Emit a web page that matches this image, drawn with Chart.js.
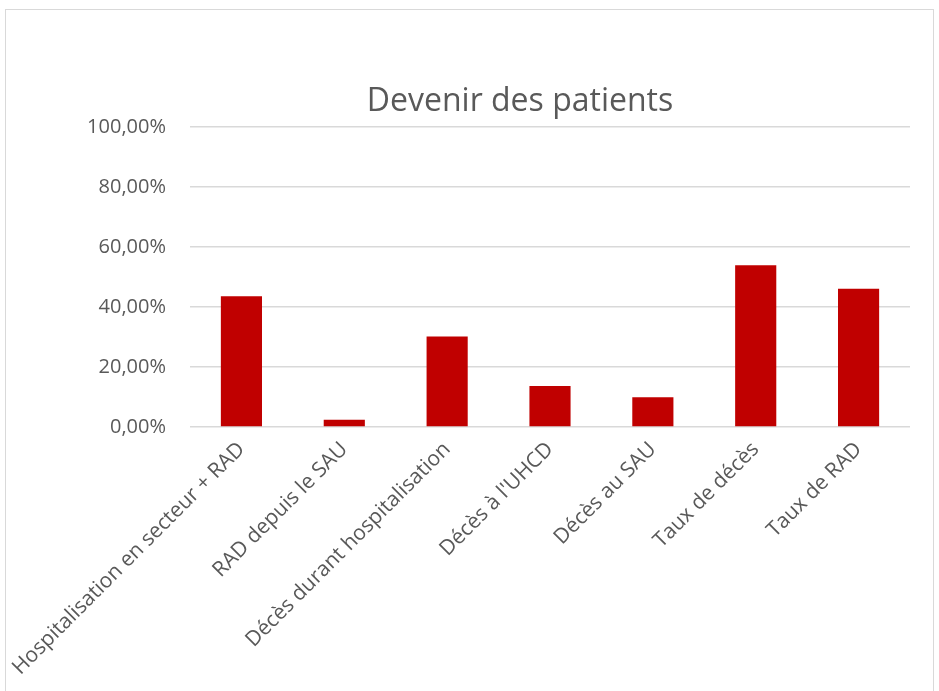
<!DOCTYPE html>
<html lang="fr">
<head>
    <meta charset="UTF-8">
    <title>Devenir des patients</title>
    <script src="https://cdn.jsdelivr.net/npm/chart.js@4.4.2/dist/chart.umd.min.js"></script>
    <style>
        html, body {
            margin: 0;
            padding: 0;
            background: #fff;
            overflow: hidden;
        }
        .frame {
            position: absolute;
            left: 5px;
            top: 9px;
            width: 927px;
            height: 700px;
            border: 1px solid #d9d9d9;
        }
        #chart {
            position: absolute;
            left: 0;
            top: 0;
        }
    </style>
</head>
<body>
    <div class="frame"></div>
    <canvas id="chart" width="939" height="691"></canvas>

    <script>
        // --- Data ---
        const categories = [
            'Hospitalisation en secteur + RAD',
            'RAD depuis le SAU',
            'Décès durant hospitalisation',
            "Décès à l'UHCD",
            'Décès au SAU',
            'Taux de décès',
            'Taux de RAD'
        ];
        const percentages = [0.436, 0.024, 0.302, 0.137, 0.099, 0.539, 0.461];
        const yTicks = [0, 0.2, 0.4, 0.6, 0.8, 1];
        const chartTitle = 'Devenir des patients';

        const textColor = '#595959';
        const gridColor = '#d9d9d9';

        function formatPercent(v) {
            return (v * 100).toFixed(2).replace('.', ',') + '%';
        }

        // Excel centres the title a bit right of the canvas middle, so draw it ourselves
        const titlePlugin = {
            id: 'excelTitle',
            afterDraw(chart) {
                const ctx = chart.ctx;
                ctx.save();
                ctx.fillStyle = textColor;
                ctx.font = '32px "Open Sans"';
                ctx.textAlign = 'center';
                ctx.textBaseline = 'alphabetic';
                ctx.fillText(chartTitle, 520, 111);
                ctx.restore();
            }
        };

        new Chart(document.getElementById('chart'), {
            type: 'bar',
            data: {
                labels: categories,
                datasets: [{
                    label: 'Devenir',
                    data: percentages,
                    backgroundColor: '#c00000',
                    borderWidth: 0,
                    barPercentage: 0.4,
                    categoryPercentage: 1
                }]
            },
            plugins: [titlePlugin],
            options: {
                responsive: false,
                animation: false,
                layout: {
                    padding: { left: 0, right: 29, top: 127, bottom: 0 }
                },
                plugins: {
                    legend: { display: false },
                    tooltip: { enabled: false },
                    title: { display: false }
                },
                scales: {
                    x: {
                        grid: { display: false, drawTicks: false },
                        border: { display: false },
                        ticks: {
                            color: textColor,
                            font: { family: 'Open Sans', size: 21 },
                            minRotation: 45,
                            maxRotation: 45,
                            autoSkip: false,
                            padding: 10
                        },
                        afterFit: (scale) => {
                            scale.height = 264;
                            // long rotated first label must not push the plot area right
                            scale.paddingLeft = 0;
                            scale.paddingRight = 0;
                        }
                    },
                    y: {
                        min: 0,
                        max: 1,
                        afterBuildTicks: (scale) => {
                            scale.ticks = yTicks.map(v => ({ value: v }));
                        },
                        grid: { color: gridColor, lineWidth: 1.5, drawTicks: false },
                        border: { display: false },
                        ticks: {
                            color: textColor,
                            font: { family: 'Open Sans', size: 20 },
                            padding: 24,
                            callback: (v) => formatPercent(v)
                        },
                        afterFit: (scale) => { scale.width = 190; }
                    }
                }
            }
        });
    </script>
</body>
</html>
